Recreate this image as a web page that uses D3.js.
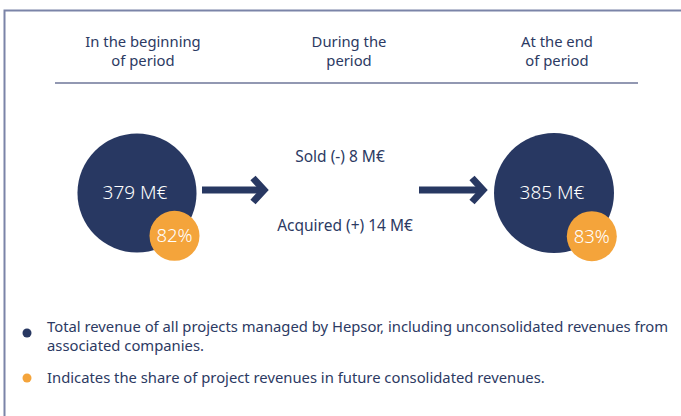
<!DOCTYPE html>
<html>
<head>
<meta charset="utf-8">
<script src="https://cdn.jsdelivr.net/npm/d3@7"></script>
<style>
  body { margin: 0; background: #fff; }
  text { font-family: "Noto Sans", Lato, sans-serif; }
</style>
</head>
<body>
<div id="viz"></div>
<script>
// chart data
const headers = [["In the beginning", "of period"], ["During the", "period"], ["At the end", "of period"]]
const totals = [379, 385]          // M€, start and end of period
const shares = [82, 83]            // % share in consolidated revenues
const changes = ["Sold (-) 8 M€", "Acquired (+) 14 M€"]
const legendItems = [
    ["Total revenue of all projects managed by Hepsor, including unconsolidated revenues from", "associated companies."],
    ["Indicates the share of project revenues in future consolidated revenues."]
]

const width = 681
const height = 416
const navy = "#283862"
const orange = "#f4a43b"
const textCol = "#2c3a63"

const svg = d3.select("#viz").append("svg")
    .attr("width", width)
    .attr("height", height)

// frame
svg.append("path")
    .attr("d", `M4.5,${height} V10.5 H${width}`)
    .attr("fill", "none")
    .attr("stroke", "#7b84a8")
    .attr("stroke-width", 2)

// column positions
const x = d3.scalePoint().domain([0, 1, 2]).range([139, 553])
const r = d3.scaleSqrt().domain([0, 385]).range([0, 60])

// headers
headers.forEach((lines, i) => {
    const hx = x(i) + (i == 1 ? 3 : 4)
    const t = svg.append("text")
        .attr("y", 47)
        .attr("text-anchor", "middle")
        .attr("fill", textCol)
        .style("font-size", "14.8px")
    lines.forEach((l, j) => t.append("tspan").attr("x", hx).attr("dy", j ? 19 : 0).text(l))
})

svg.append("line")
    .attr("x1", 55).attr("x2", 638)
    .attr("y1", 83).attr("y2", 83)
    .attr("stroke", "#6e7699")
    .attr("stroke-width", 1.5)

// circles
const cy = 193
const cols = [0, 2]
totals.forEach((v, i) => {
    const cx = x(cols[i]) - 2 + (i ? 3 : 0)
    const rad = r(v)
    svg.append("circle").attr("cx", cx).attr("cy", cy).attr("r", rad).attr("fill", navy)
    svg.append("text")
        .attr("x", cx - 2).attr("y", cy + 6)
        .attr("text-anchor", "middle")
        .attr("fill", "#fff")
        .style("font-size", "19px")
        .style("font-weight", 300)
        .text(v + " M€")
    const ox = cx + rad * 0.63, oy = cy + rad * 0.72
    svg.append("circle").attr("cx", ox).attr("cy", oy).attr("r", 25).attr("fill", orange)
    svg.append("text")
        .attr("x", ox).attr("y", oy + 6.5)
        .attr("text-anchor", "middle")
        .attr("fill", "#fff")
        .style("font-size", "18.5px")
        .style("font-weight", 300)
        .text(shares[i] + "%")
})

// arrows
const arrows = [[202, 267], [419, 486]]
arrows.forEach(([a, b]) => {
    const g = svg.append("g").attr("fill", "none").attr("stroke", navy)
    g.append("line").attr("x1", a).attr("x2", b - 4).attr("y1", 190).attr("y2", 190).attr("stroke-width", 7)
    g.append("path")
        .attr("d", `M${b - 14},178 L${b - 3},190 L${b - 14},202`)
        .attr("stroke-width", 7)
        .attr("stroke-linejoin", "miter")
})

// changes during period
changes.forEach((c, i) => {
    svg.append("text")
        .attr("x", i ? 345 : 340)
        .attr("y", i ? 231 : 162)
        .attr("text-anchor", "middle")
        .attr("fill", textCol)
        .style("font-size", "15.5px")
        .text(c)
})

// legend
const legendY = [333, 378]
legendItems.forEach((lines, i) => {
    svg.append("circle").attr("cx", 27).attr("cy", legendY[i]).attr("r", 4.5).attr("fill", i ? orange : navy)
    const t = svg.append("text")
        .attr("y", legendY[i] - (lines.length > 1 ? 1 : -5))
        .attr("fill", textCol)
        .style("font-size", "14.8px")
    lines.forEach((l, j) => t.append("tspan").attr("x", 47).attr("dy", j ? 19 : 0).text(l))
})
</script>
</body>
</html>
